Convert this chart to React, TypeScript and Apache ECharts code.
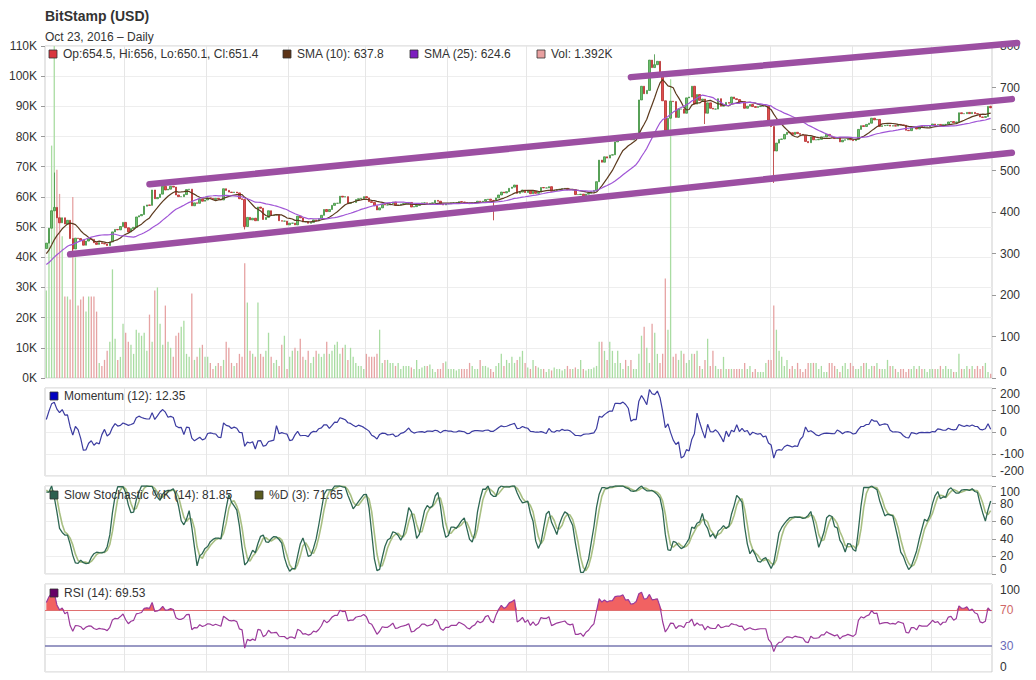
import React, { useEffect, useRef } from "react";
import * as echarts from "echarts";

// ---- Data (Bitstamp BTC/USD, daily) ----
// pre-history (Oct 2015) used only to seed the indicators
const histClose = [237, 238, 239, 239, 240, 246, 243, 242, 244, 245, 246, 245, 249, 252, 254, 262, 270, 262, 262, 268, 266, 275, 276, 282, 286, 284, 294, 302, 312, 325, 312];

const closeNov15 = [325, 361, 403, 411, 386, 374, 386, 371, 380, 336, 311, 337, 336, 332, 320, 330, 335, 334, 326, 322, 326, 324, 323, 319, 328, 352, 358, 357, 365, 375];
const closeDec15 = [362, 352, 360, 363, 388, 391, 394, 414, 417, 416, 453, 432, 435, 443, 462, 453, 455, 462, 460, 441, 437, 437, 442, 454, 455, 415, 422, 421, 431, 426, 429];
const closeJan16 = [434, 433, 430, 433, 431, 429, 456, 452, 448, 447, 448, 446, 432, 430, 365, 387, 381, 385, 379, 412, 409, 382, 387, 403, 392, 393, 394, 379, 378, 378, 369];
const closeFeb16 = [373, 373, 369, 390, 386, 376, 377, 373, 375, 381, 379, 384, 392, 406, 401, 406, 416, 421, 421, 438, 436, 437, 421, 423, 423, 430, 432, 433, 437];
const closeMar16 = [434, 425, 423, 415, 405, 410, 418, 417, 417, 420, 424, 416, 417, 419, 420, 421, 423, 412, 413, 416, 418, 422, 422, 420, 421, 422, 428, 426, 419, 417, 420];
const closeApr16 = [420, 422, 422, 422, 425, 424, 423, 421, 420, 422, 423, 426, 425, 426, 430, 431, 428, 427, 434, 441, 448, 446, 449, 457, 460, 465, 445, 448, 453, 447];
const closeMay16 = [451, 444, 450, 445, 448, 459, 458, 458, 461, 450, 452, 454, 455, 456, 457, 454, 453, 454, 442, 442, 443, 439, 443, 445, 449, 452, 473, 525, 520, 533, 530];
const closeJun16 = [537, 538, 569, 573, 574, 585, 577, 581, 574, 577, 589, 670, 703, 685, 693, 766, 748, 755, 763, 737, 668, 597, 626, 667, 666, 628, 648, 648, 638, 675];
const closeJul16 = [677, 703, 660, 683, 669, 672, 638, 663, 650, 648, 648, 673, 655, 658, 664, 662, 677, 673, 671, 665, 666, 650, 655, 659, 654, 652, 654, 655, 655, 655, 621];
const closeAug16 = [606, 547, 566, 575, 576, 587, 592, 591, 587, 592, 589, 587, 585, 570, 567, 581, 574, 574, 575, 581, 581, 587, 583, 580, 577, 579, 569, 573, 574, 576, 574];
const closeSep16 = [572, 575, 599, 608, 606, 611, 614, 626, 622, 623, 606, 608, 609, 609, 607, 608, 607, 611, 610, 609, 597, 596, 603, 603, 600, 606, 605, 605, 605, 608];
const closeOct16 = [612, 610, 611, 608, 611, 611, 617, 618, 615, 617, 639.05, 637, 637, 640, 637, 640, 637, 636, 629, 628, 630, 654.5, 651.4];

// volume in thousands
const volNov15 = [29, 46, 77, 115, 69, 61, 47, 27, 27, 26, 60, 40, 24, 26, 27, 22, 27, 27, 27, 22, 5, 4, 6, 9, 12, 36, 13, 6, 7, 18];
const volDec15 = [15, 12, 11, 8, 16, 15, 14, 15, 9, 21, 12, 29, 30, 18, 11, 24, 12, 10, 7, 14, 15, 17, 19, 8, 7, 28, 6, 7, 10, 11, 7];
const volJan16 = [7, 5, 3, 4, 5, 4, 6, 12, 10, 5, 4, 5, 8, 7, 38, 25, 9, 8, 7, 25, 8, 7, 9, 15, 7, 5, 6, 4, 11, 14, 3];
const volFeb16 = [7, 9, 10, 9, 13, 7, 6, 9, 5, 7, 9, 8, 7, 8, 12, 8, 9, 11, 12, 8, 10, 11, 6, 10, 7, 5, 4, 4, 3];
const volMar16 = [8, 7, 7, 7, 8, 16, 5, 6, 6, 5, 5, 4, 5, 3, 4, 4, 4, 3.5, 3, 6, 3, 3.5, 4, 4, 4.5, 3, 2, 3, 3, 5, 5.5];
const volApr16 = [3, 3, 3, 2.5, 3, 3, 3, 3, 5, 4, 3, 3, 6, 4, 4, 3.5, 3, 2, 4, 5, 8, 4, 6, 5, 7, 5, 6, 7, 9, 5];
const volMay16 = [3.5, 3, 6, 4, 3.5, 3, 3, 2, 3, 2.5, 3.5, 3, 3, 2.5, 3, 4, 3, 3, 3.5, 3, 6, 3, 2.5, 3, 3, 3.5, 4, 12, 12, 9, 6];
const volJun16 = [12, 9, 5, 9, 5, 3, 6, 4, 6, 3, 3, 8, 14, 17, 10, 5, 18, 15, 8, 5, 8, 33, 16, 99, 7, 8, 6, 9, 8, 5];
const volJul16 = [6, 8, 8, 9, 4, 3, 6, 13, 4, 9, 4, 3, 3, 7, 3, 3, 3, 3, 3, 3, 3, 5, 3, 4, 2, 3, 2, 2, 2, 5, 6];
const volAug16 = [6, 24, 16, 9, 7, 4, 6, 3, 4, 3, 5, 3, 2, 3, 5, 5, 5, 5, 3, 4, 2, 2, 5, 5, 4, 3, 2, 4, 5, 3, 5];
const volSep16 = [4, 3, 3, 4, 5, 5, 3, 4, 4, 5, 3, 3, 3, 6, 4, 4, 3, 2, 3, 3, 2, 3, 3, 4, 3, 4, 3, 3, 2, 3];
const volOct16 = [3, 3, 3, 4, 3, 4, 3, 3, 2, 2, 8, 3, 3, 4, 3, 4, 3, 4, 3, 4, 5, 2, 1.392];

// notable wicks (visible day index -> high / low)
const wicks: Record<number, { h?: number; l?: number }> = {
  3: { h: 495 },
  10: { l: 305 },
  75: { l: 358 },
  169: { l: 380 },
  230: { h: 780 },
  234: { l: 585 },
  249: { l: 612 },
  275: { l: 470 },
  357: { h: 656, l: 650.1 },
};

// hand-drawn trend channel (day index, price)
const trendLines = [
  { d0: 221, p0: 725, d1: 367, p1: 807 },
  { d0: 39, p0: 467, d1: 365, p1: 672 },
  { d0: 9, p0: 298, d1: 365, p1: 543 },
];

const volTicks = [0, 10, 20, 30, 40, 50, 60, 70, 80, 90, 100, 110];

// ---- derived structures ----
const closeVis = [
  ...closeNov15, ...closeDec15, ...closeJan16, ...closeFeb16, ...closeMar16, ...closeApr16,
  ...closeMay16, ...closeJun16, ...closeJul16, ...closeAug16, ...closeSep16, ...closeOct16,
];
const volVis = [
  ...volNov15, ...volDec15, ...volJan16, ...volFeb16, ...volMar16, ...volApr16,
  ...volMay16, ...volJun16, ...volJul16, ...volAug16, ...volSep16, ...volOct16,
];
const H = histClose.length;
const closeAll = [...histClose, ...closeVis];

const dates: string[] = [];
{
  const start = Date.UTC(2015, 10, 1);
  for (let i = 0; i < closeVis.length; i++) {
    dates.push(new Date(start + i * 86400000).toISOString().slice(0, 10));
  }
}

const openVis = closeVis.map((c, d) => closeAll[d + H - 1]);
const highVis = closeVis.map((c, d) => {
  const w = wicks[d];
  const m = Math.max(c, openVis[d]);
  return w && w.h != null ? Math.max(w.h, m) : m;
});
const lowVis = closeVis.map((c, d) => {
  const w = wicks[d];
  const m = Math.min(c, openVis[d]);
  return w && w.l != null ? Math.min(w.l, m) : m;
});
const highAll = [...histClose, ...highVis];
const lowAll = [...histClose, ...lowVis];

const sma = (n: number) =>
  closeVis.map((_, d) => {
    const i = d + H;
    let s = 0;
    for (let k = i - n + 1; k <= i; k++) s += closeAll[k];
    return +(s / n).toFixed(2);
  });
const sma10 = sma(10);
const sma25 = sma(25);
const momentum = closeVis.map((c, d) => +(c - closeAll[d + H - 12]).toFixed(2));

// stochastic
const fastK: number[] = closeAll.map((c, i) => {
  if (i < 13) return NaN;
  let hh = -Infinity, ll = Infinity;
  for (let k = i - 13; k <= i; k++) {
    hh = Math.max(hh, highAll[k]);
    ll = Math.min(ll, lowAll[k]);
  }
  return hh === ll ? 50 : (100 * (c - ll)) / (hh - ll);
});
const slowKAll = fastK.map((_, i) => (i < 15 ? NaN : (fastK[i] + fastK[i - 1] + fastK[i - 2]) / 3));
const dAll = slowKAll.map((_, i) => (i < 17 ? NaN : (slowKAll[i] + slowKAll[i - 1] + slowKAll[i - 2]) / 3));
const slowK = slowKAll.slice(H).map((v) => +v.toFixed(2));
const pctD = dAll.slice(H).map((v) => +v.toFixed(2));

// RSI (Wilder, 14)
const rsiAll: number[] = new Array(closeAll.length).fill(NaN);
{
  let g = 0, l = 0;
  for (let i = 1; i <= 14; i++) {
    const ch = closeAll[i] - closeAll[i - 1];
    if (ch > 0) g += ch; else l -= ch;
  }
  g /= 14; l /= 14;
  rsiAll[14] = 100 - 100 / (1 + g / l);
  for (let i = 15; i < closeAll.length; i++) {
    const ch = closeAll[i] - closeAll[i - 1];
    g = (g * 13 + Math.max(ch, 0)) / 14;
    l = (l * 13 + Math.max(-ch, 0)) / 14;
    rsiAll[i] = l === 0 ? 100 : 100 - 100 / (1 + g / l);
  }
}
const rsi = rsiAll.slice(H).map((v) => +v.toFixed(2));
const rsiBase = rsi.map(() => 70);
const rsiOver = rsi.map((v) => +Math.max(0, v - 70).toFixed(2));

const candleData = closeVis.map((c, d) => [openVis[d], c, lowVis[d], highVis[d]]);
const volData = volVis.map((v, d) => ({
  value: v,
  itemStyle: { color: closeVis[d] >= openVis[d] ? "#a9dca2" : "#e6a3a3" },
}));

const FONT = "Liberation Sans, Arial, sans-serif";
const GRID_LEFT = 45;
const GRID_RIGHT = 44;

const makeX = (gridIndex: number) => ({
  type: "category",
  gridIndex,
  data: dates,
  boundaryGap: true,
  axisLine: { show: false },
  axisTick: { show: false },
  axisLabel: { show: false },
  splitLine: {
    show: true,
    interval: (i: number, v: string) => v.slice(8) === "01",
    lineStyle: { color: "#e6e6e6", width: 1 },
  },
});

const axisLabelStyle = { color: "#333", fontSize: 12, fontFamily: FONT };
const edgeAlign = {
  verticalAlignMinLabel: "bottom",
  verticalAlignMaxLabel: "top",
  showMinLabel: true,
  showMaxLabel: true,
  lineHeight: 11,
};

const legendItems = [
  { x: 49, y: 50, color: "#d9363e", text: "Op:654.5, Hi:656, Lo:650.1, Cl:651.4" },
  { x: 283, y: 50, color: "#5c3317", text: "SMA (10): 637.8" },
  { x: 410, y: 50, color: "#7d1fbf", text: "SMA (25): 624.6" },
  { x: 537, y: 50, color: "#e8a0a0", text: "Vol: 1.392K" },
  { x: 50, y: 392, color: "#0000c0", text: "Momentum (12): 12.35" },
  { x: 50, y: 491, color: "#2d5e4f", text: "Slow Stochastic %K (14): 81.85" },
  { x: 255, y: 491, color: "#5a5a1e", text: "%D (3): 71.65" },
  { x: 50, y: 589, color: "#660066", text: "RSI (14): 69.53" },
];

const option: any = {
  animation: false,
  backgroundColor: "#ffffff",
  textStyle: { fontFamily: FONT },
  grid: [
    { left: GRID_LEFT, right: GRID_RIGHT, top: 46, height: 332, show: true, borderColor: "#cccccc", borderWidth: 1 },
    { left: GRID_LEFT, right: GRID_RIGHT, top: 388, height: 88, show: true, borderColor: "#cccccc", borderWidth: 1 },
    { left: GRID_LEFT, right: GRID_RIGHT, top: 486, height: 88, show: true, borderColor: "#cccccc", borderWidth: 1 },
    { left: GRID_LEFT, right: GRID_RIGHT, top: 584, height: 88, show: true, borderColor: "#cccccc", borderWidth: 1 },
  ],
  xAxis: [makeX(0), makeX(1), makeX(2), makeX(3)],
  yAxis: [
    {
      type: "value", gridIndex: 0, position: "left", min: 0, max: volTicks[volTicks.length - 1], interval: 10,
      axisLine: { show: false },
      axisTick: { show: true, length: 4, lineStyle: { color: "#999" } },
      axisLabel: { ...axisLabelStyle, margin: 8, formatter: (v: number) => `${v}K` },
      splitLine: { show: true, lineStyle: { color: "#eeeeee" } },
    },
    {
      type: "value", gridIndex: 0, position: "right", min: 0, max: 800, interval: 100,
      axisLine: { show: false },
      axisTick: { show: true, length: 4, lineStyle: { color: "#999" } },
      axisLabel: { ...axisLabelStyle, margin: 8, verticalAlignMinLabel: "bottom", showMinLabel: true, showMaxLabel: true },
      splitLine: { show: false },
    },
    {
      type: "value", gridIndex: 1, position: "right", min: -200, max: 200, interval: 100,
      axisLine: { show: false },
      axisTick: { show: true, length: 4, lineStyle: { color: "#999" } },
      axisLabel: { ...axisLabelStyle, ...edgeAlign, margin: 8 },
      splitLine: { show: true, lineStyle: { color: "#eeeeee" } },
    },
    {
      type: "value", gridIndex: 2, position: "right", min: 0, max: 100, interval: 20,
      axisLine: { show: false },
      axisTick: { show: true, length: 4, lineStyle: { color: "#999" } },
      axisLabel: { ...axisLabelStyle, ...edgeAlign, margin: 8 },
      splitLine: { show: true, lineStyle: { color: "#eeeeee" } },
    },
    {
      type: "value", gridIndex: 3, position: "right", min: 0, max: 100, interval: 20,
      axisLine: { show: false },
      axisTick: { show: false },
      axisLabel: {
        ...axisLabelStyle, ...edgeAlign, margin: 8,
        formatter: (v: number) => (v === 0 || v === 100 ? String(v) : ""),
      },
      splitLine: { show: true, lineStyle: { color: "#eeeeee" } },
    },
  ],
  series: [
    {
      name: "Vol", type: "bar", xAxisIndex: 0, yAxisIndex: 0, data: volData,
      barWidth: 1.3, z: 1, silent: true,
    },
    {
      name: "BitStamp", type: "candlestick", xAxisIndex: 0, yAxisIndex: 1, data: candleData,
      barWidth: 2, z: 3,
      itemStyle: { color: "#6cbf6c", color0: "#dd4f4f", borderColor: "#3f8f3f", borderColor0: "#b52b2b", borderWidth: 0.8 },
    },
    {
      name: "SMA (10)", type: "line", xAxisIndex: 0, yAxisIndex: 1, data: sma10, symbol: "none", z: 4,
      lineStyle: { color: "#5c3a1e", width: 1.2 },
    },
    {
      name: "SMA (25)", type: "line", xAxisIndex: 0, yAxisIndex: 1, data: sma25, symbol: "none", z: 4,
      lineStyle: { color: "#a055d6", width: 1.2 },
    },
    {
      name: "Momentum", type: "line", xAxisIndex: 1, yAxisIndex: 2, data: momentum, symbol: "none",
      lineStyle: { color: "#3b3ba0", width: 1.2 },
    },
    {
      name: "%D", type: "line", xAxisIndex: 2, yAxisIndex: 3, data: pctD, symbol: "none",
      lineStyle: { color: "#a8bf82", width: 1.6 },
    },
    {
      name: "%K", type: "line", xAxisIndex: 2, yAxisIndex: 3, data: slowK, symbol: "none",
      lineStyle: { color: "#2e6753", width: 1.3 },
    },
    {
      name: "rsiBase", type: "line", xAxisIndex: 3, yAxisIndex: 4, data: rsiBase, symbol: "none",
      stack: "rsi", lineStyle: { opacity: 0, width: 0 }, silent: true,
    },
    {
      name: "rsiOver", type: "line", xAxisIndex: 3, yAxisIndex: 4, data: rsiOver, symbol: "none",
      stack: "rsi", lineStyle: { opacity: 0, width: 0 }, areaStyle: { color: "#f05a5a", opacity: 0.95 }, silent: true,
    },
    {
      name: "RSI", type: "line", xAxisIndex: 3, yAxisIndex: 4, data: rsi, symbol: "none", z: 5,
      lineStyle: { color: "#9b3a9b", width: 1.2 },
      markLine: {
        silent: true,
        symbol: ["none", "none"],
        label: { position: "end", fontSize: 12, fontFamily: FONT, distance: 8 },
        data: [
          { yAxis: 70, lineStyle: { color: "#e07070", width: 1, type: "solid" }, label: { formatter: "70", color: "#d06868" } },
          { yAxis: 30, lineStyle: { color: "#7777b0", width: 1.6, type: "solid" }, label: { formatter: "30", color: "#6a6ab8" } },
        ],
      },
    },
  ],
};

const baseGraphic: any[] = [
  {
    type: "text", left: 45, top: 9,
    style: { text: "BitStamp (USD)", font: `bold 14px ${FONT}`, fill: "#333" },
  },
  {
    type: "text", left: 45, top: 31,
    style: { text: "Oct 23, 2016 \u2013 Daily", font: `12px ${FONT}`, fill: "#333" },
  },
  ...legendItems.flatMap((it) => [
    {
      type: "rect", shape: { x: it.x, y: it.y, width: 8, height: 8 },
      style: { fill: it.color, stroke: "#333", lineWidth: 0.8 }, z: 50,
    },
    {
      type: "text", x: it.x + 14, y: it.y + 4,
      style: { text: it.text, font: `12px ${FONT}`, fill: "#333", verticalAlign: "middle" }, z: 50,
    },
  ]),
];

export default function App() {
  const ref = useRef<HTMLDivElement>(null);
  useEffect(() => {
    if (!ref.current) return;
    const chart = echarts.init(ref.current, null, { renderer: "svg" });
    chart.setOption(option);
    const lines = trendLines.map((t) => {
      const a = chart.convertToPixel({ xAxisIndex: 0, yAxisIndex: 1 } as any, [t.d0, t.p0]) as number[];
      const b = chart.convertToPixel({ xAxisIndex: 0, yAxisIndex: 1 } as any, [t.d1, t.p1]) as number[];
      return {
        type: "line",
        shape: { x1: a[0], y1: a[1], x2: b[0], y2: b[1] },
        style: { stroke: "#9c4fa2", lineWidth: 6.5, lineCap: "round" },
        z: 100,
      };
    });
    chart.setOption({ graphic: [...baseGraphic, ...lines] });
    return () => chart.dispose();
  }, []);
  return (
    <div
      ref={ref}
      style={{ position: "fixed", left: 0, top: 0, width: 1036, height: 680, background: "#fff" }}
    />
  );
}
